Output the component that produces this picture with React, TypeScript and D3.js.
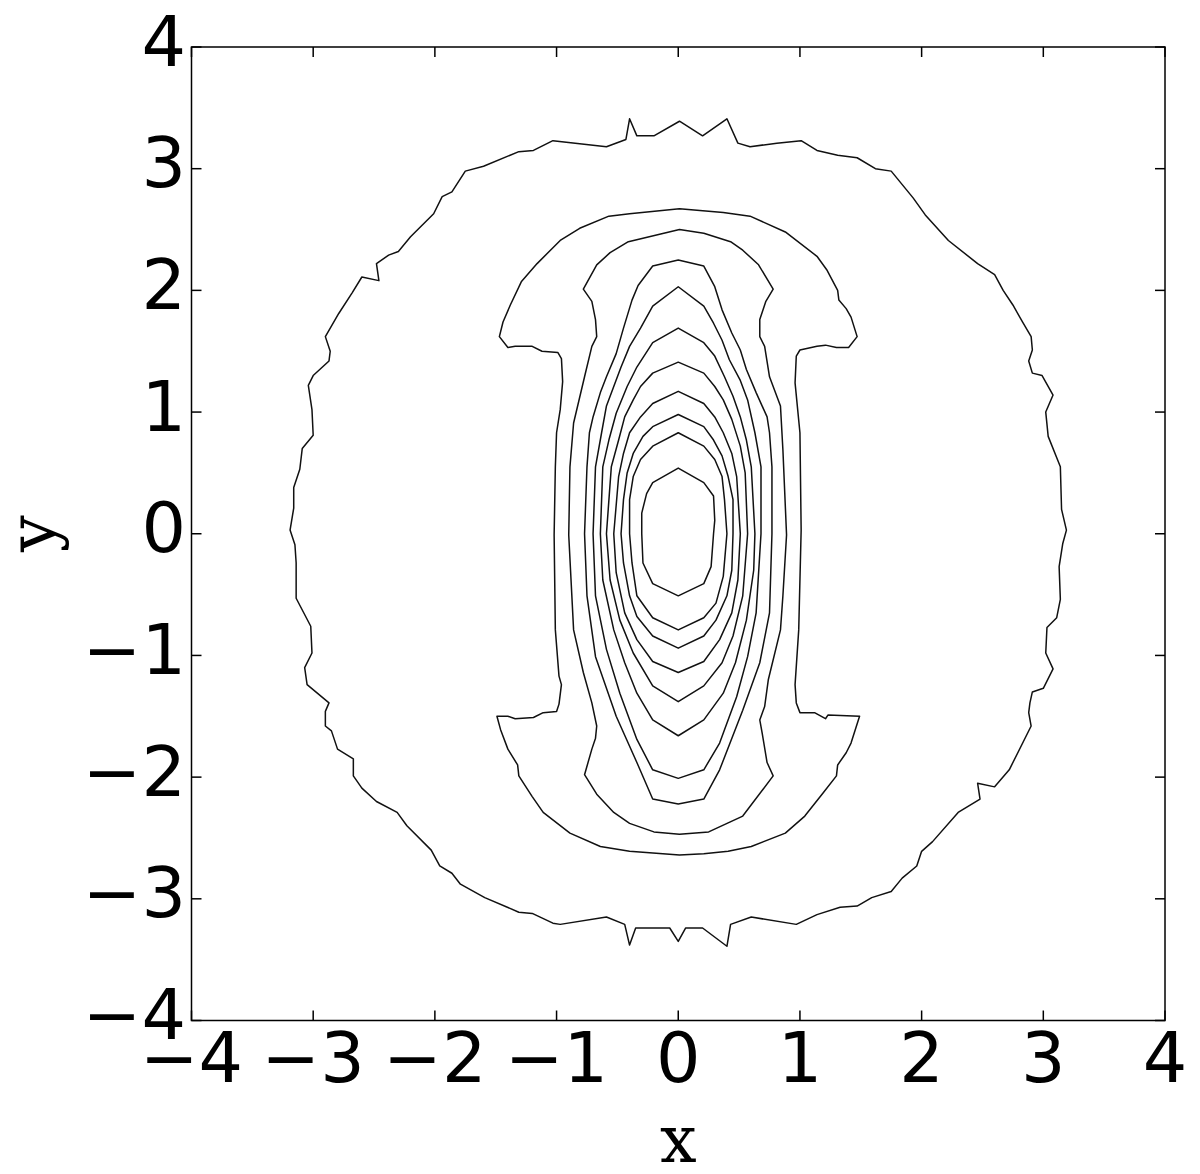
import React from 'react';
import * as d3 from 'd3';

type P = [number, number];

const xTickValues = [-4, -3, -2, -1, 0, 1, 2, 3, 4];
const yTickValues = [-4, -3, -2, -1, 0, 1, 2, 3, 4];
const tickLabels = ['\u22124', '\u22123', '\u22122', '\u22121', '0', '1', '2', '3', '4'];
const xAxisLabel = 'x';
const yAxisLabel = 'y';

const outerContour: P[] = [
  [0.01, 3.39], [-0.2, 3.27], [-0.34, 3.27], [-0.4, 3.41], [-0.43, 3.24], [-0.59, 3.18], [-1.03, 3.23], [-1.19, 3.15],
  [-1.31, 3.14], [-1.6, 3.02], [-1.75, 2.98], [-1.86, 2.81], [-1.94, 2.77], [-2.01, 2.63], [-2.2, 2.44], [-2.3, 2.32],
  [-2.38, 2.29], [-2.48, 2.22], [-2.46, 2.08], [-2.6, 2.11], [-2.68, 1.98], [-2.79, 1.81], [-2.9, 1.62], [-2.86, 1.5],
  [-2.87, 1.42], [-3.0, 1.3], [-3.04, 1.22], [-3.01, 1.02], [-3.0, 0.81], [-3.09, 0.7], [-3.11, 0.53], [-3.16, 0.38],
  [-3.16, 0.21], [-3.19, 0.03], [-3.15, -0.09], [-3.14, -0.24], [-3.14, -0.53], [-3.02, -0.76], [-3.01, -0.98],
  [-3.07, -1.1], [-3.05, -1.24], [-2.87, -1.39], [-2.9, -1.46], [-2.9, -1.58], [-2.85, -1.62], [-2.8, -1.77],
  [-2.67, -1.85], [-2.67, -1.99], [-2.6, -2.09], [-2.48, -2.2], [-2.31, -2.29], [-2.23, -2.4], [-2.03, -2.6],
  [-1.96, -2.73], [-1.86, -2.79], [-1.79, -2.88], [-1.59, -2.99], [-1.31, -3.11], [-1.2, -3.12], [-1.03, -3.2],
  [-0.97, -3.21], [-0.59, -3.15], [-0.44, -3.21], [-0.4, -3.38], [-0.35, -3.24], [-0.07, -3.24], [0.0, -3.35],
  [0.06, -3.24], [0.2, -3.24], [0.4, -3.39], [0.43, -3.21], [0.6, -3.15], [0.97, -3.21], [1.14, -3.13], [1.33, -3.07],
  [1.47, -3.06], [1.59, -2.99], [1.75, -2.94], [1.84, -2.83], [1.96, -2.73], [2.0, -2.61], [2.09, -2.53], [2.3, -2.29],
  [2.48, -2.18], [2.46, -2.05], [2.6, -2.08], [2.72, -1.94], [2.9, -1.58], [2.88, -1.47], [2.89, -1.39], [2.91, -1.3],
  [3.0, -1.27], [3.08, -1.11], [3.02, -0.98], [3.03, -0.77], [3.11, -0.69], [3.14, -0.54], [3.13, -0.27], [3.16, -0.08],
  [3.19, 0.03], [3.15, 0.2], [3.14, 0.55], [3.04, 0.8], [3.02, 1.0], [3.08, 1.14], [2.99, 1.3], [2.91, 1.32],
  [2.88, 1.42], [2.91, 1.51], [2.9, 1.62], [2.83, 1.74], [2.75, 1.88], [2.67, 2.0], [2.6, 2.13], [2.46, 2.22],
  [2.22, 2.41], [2.03, 2.62], [1.93, 2.76], [1.75, 2.98], [1.62, 3.0], [1.47, 3.09], [1.31, 3.11], [1.14, 3.15],
  [1.01, 3.23], [0.81, 3.21], [0.59, 3.18], [0.49, 3.21], [0.4, 3.41], [0.2, 3.27],
];

const iShapeContour: P[] = [
  [0.01, 2.67], [-0.4, 2.63], [-0.57, 2.61], [-0.81, 2.51], [-0.97, 2.41], [-1.16, 2.22], [-1.29, 2.07], [-1.38, 1.88],
  [-1.44, 1.74], [-1.47, 1.62], [-1.4, 1.53], [-1.34, 1.54], [-1.2, 1.54], [-1.12, 1.5], [-0.99, 1.49], [-0.96, 1.44],
  [-0.95, 1.25], [-0.97, 1.02], [-1.0, 0.83], [-1.01, 0.55], [-1.02, -0.01], [-1.01, -0.79], [-0.98, -1.17],
  [-0.96, -1.24], [-0.98, -1.4], [-1.0, -1.46], [-1.11, -1.47], [-1.19, -1.51], [-1.34, -1.52], [-1.4, -1.5],
  [-1.49, -1.5], [-1.46, -1.61], [-1.4, -1.77], [-1.32, -1.9], [-1.31, -1.99], [-1.2, -2.16], [-1.11, -2.29],
  [-0.89, -2.46], [-0.64, -2.57], [-0.4, -2.61], [0.01, -2.64], [0.21, -2.63], [0.41, -2.61], [0.6, -2.57],
  [0.88, -2.46], [1.04, -2.32], [1.19, -2.13], [1.3, -1.99], [1.31, -1.9], [1.38, -1.8], [1.42, -1.72], [1.49, -1.5],
  [1.23, -1.49], [1.21, -1.52], [1.12, -1.47], [1.0, -1.47], [0.97, -1.39], [0.96, -1.24], [0.99, -0.79], [1.01, 0.03],
  [1.0, 0.83], [0.96, 1.24], [0.97, 1.46], [1.0, 1.51], [1.14, 1.54], [1.21, 1.55], [1.3, 1.53], [1.4, 1.53],
  [1.47, 1.62], [1.42, 1.78], [1.38, 1.85], [1.32, 1.92], [1.31, 2.0], [1.22, 2.17], [1.14, 2.28], [0.88, 2.48],
  [0.59, 2.61], [0.37, 2.64],
];

const shoulderContour: P[] = [
  [0.01, 2.5], [-0.41, 2.4], [-0.56, 2.31], [-0.67, 2.21], [-0.78, 2.01], [-0.71, 1.91], [-0.68, 1.76], [-0.67, 1.62],
  [-0.71, 1.54], [-0.77, 1.29], [-0.86, 0.91], [-0.89, 0.55], [-0.9, -0.01], [-0.86, -0.79], [-0.78, -1.14],
  [-0.71, -1.39], [-0.67, -1.58], [-0.68, -1.68], [-0.71, -1.77], [-0.77, -1.98], [-0.67, -2.14], [-0.53, -2.29],
  [-0.4, -2.38], [-0.2, -2.45], [0.01, -2.47], [0.25, -2.45], [0.53, -2.32], [0.78, -1.99], [0.73, -1.88],
  [0.69, -1.64], [0.67, -1.53], [0.71, -1.42], [0.74, -1.2], [0.84, -0.79], [0.86, -0.51], [0.89, -0.01], [0.86, 0.69],
  [0.84, 1.05], [0.75, 1.29], [0.71, 1.54], [0.67, 1.62], [0.67, 1.76], [0.72, 1.91], [0.78, 2.01], [0.66, 2.21],
  [0.53, 2.33], [0.43, 2.4], [0.21, 2.47],
];

const oval1: P[] = [
  [0.77, 0.0], [0.77, 0.55], [0.75, 0.83], [0.73, 0.96], [0.64, 1.16], [0.56, 1.35], [0.51, 1.51], [0.44, 1.65],
  [0.36, 1.84], [0.3, 2.03], [0.21, 2.2], [0.0, 2.25], [-0.21, 2.2], [-0.33, 2.04], [-0.38, 1.92], [-0.45, 1.69],
  [-0.51, 1.48], [-0.59, 1.29], [-0.64, 1.16], [-0.7, 0.96], [-0.73, 0.83], [-0.75, 0.55], [-0.77, 0.0],
  [-0.75, -0.51], [-0.68, -1.01], [-0.51, -1.5], [-0.34, -1.88], [-0.21, -2.18], [0.0, -2.22], [0.21, -2.18],
  [0.34, -1.94], [0.53, -1.45], [0.67, -1.06], [0.75, -0.65],
];

const oval2: P[] = [
  [0.68, 0.0], [0.68, 0.55], [0.63, 0.83], [0.57, 1.1], [0.51, 1.26], [0.42, 1.43], [0.36, 1.59], [0.29, 1.73],
  [0.21, 1.87], [0.0, 2.03], [-0.21, 1.87], [-0.31, 1.69], [-0.4, 1.54], [-0.47, 1.37], [-0.53, 1.21], [-0.59, 1.05],
  [-0.63, 0.83], [-0.68, 0.55], [-0.7, 0.0], [-0.68, -0.51], [-0.59, -0.95], [-0.48, -1.31], [-0.34, -1.69],
  [-0.21, -1.94], [0.0, -2.01], [0.21, -1.94], [0.34, -1.72], [0.48, -1.34], [0.57, -1.01], [0.64, -0.65],
];

const oval3: P[] = [
  [0.63, 0.0], [0.6, 0.55], [0.56, 0.77], [0.51, 0.96], [0.45, 1.13], [0.38, 1.29], [0.3, 1.46], [0.21, 1.57],
  [0.0, 1.69], [-0.21, 1.57], [-0.34, 1.37], [-0.42, 1.21], [-0.51, 0.99], [-0.57, 0.77], [-0.62, 0.55], [-0.64, 0.0],
  [-0.62, -0.38], [-0.53, -0.79], [-0.44, -1.06], [-0.34, -1.31], [-0.21, -1.53], [0.0, -1.66], [0.21, -1.53],
  [0.37, -1.31], [0.47, -1.06], [0.56, -0.71], [0.62, -0.3],
];

const oval4: P[] = [
  [0.57, 0.0], [0.55, 0.5], [0.51, 0.72], [0.44, 0.94], [0.37, 1.1], [0.3, 1.21], [0.21, 1.32], [0.0, 1.41],
  [-0.21, 1.32], [-0.31, 1.21], [-0.37, 1.1], [-0.44, 0.96], [-0.49, 0.77], [-0.55, 0.55], [-0.59, 0.0],
  [-0.56, -0.38], [-0.48, -0.71], [-0.37, -0.98], [-0.21, -1.25], [0.0, -1.38], [0.21, -1.25], [0.36, -1.06],
  [0.45, -0.84], [0.53, -0.51],
];

const oval5: P[] = [
  [0.51, 0.0], [0.48, 0.47], [0.44, 0.66], [0.37, 0.83], [0.3, 0.96], [0.21, 1.07], [0.0, 1.17], [-0.21, 1.07],
  [-0.31, 0.96], [-0.4, 0.83], [-0.45, 0.66], [-0.49, 0.47], [-0.53, 0.0], [-0.51, -0.32], [-0.44, -0.65],
  [-0.34, -0.87], [-0.21, -1.05], [0.0, -1.14], [0.21, -1.05], [0.34, -0.87], [0.44, -0.65], [0.49, -0.38],
];

const oval6: P[] = [
  [0.45, 0.0], [0.45, 0.28], [0.41, 0.47], [0.36, 0.64], [0.29, 0.77], [0.21, 0.88], [0.0, 0.98], [-0.21, 0.88],
  [-0.29, 0.8], [-0.37, 0.66], [-0.42, 0.5], [-0.45, 0.28], [-0.47, 0.0], [-0.45, -0.24], [-0.4, -0.51],
  [-0.34, -0.68], [-0.21, -0.84], [0.0, -0.94], [0.21, -0.84], [0.31, -0.71], [0.4, -0.51], [0.44, -0.3],
];

const oval7: P[] = [
  [0.4, 0.0], [0.38, 0.28], [0.36, 0.47], [0.3, 0.61], [0.21, 0.72], [0.0, 0.83], [-0.21, 0.72], [-0.31, 0.61],
  [-0.37, 0.47], [-0.4, 0.28], [-0.4, 0.0], [-0.38, -0.24], [-0.34, -0.51], [-0.21, -0.69], [0.0, -0.79],
  [0.21, -0.69], [0.31, -0.57], [0.37, -0.35],
];

const oval8: P[] = [
  [0.29, 0.0], [0.3, 0.11], [0.29, 0.31], [0.21, 0.42], [0.0, 0.54], [-0.21, 0.42], [-0.26, 0.33], [-0.3, 0.17],
  [-0.3, 0.0], [-0.29, -0.24], [-0.21, -0.41], [0.0, -0.51], [0.21, -0.41], [0.27, -0.27],
];

const contours: P[][] = [
  outerContour, iShapeContour, shoulderContour, oval1, oval2, oval3, oval4, oval5, oval6, oval7, oval8,
];

export default function App() {
  const W = 1200;
  const H = 1174;
  const left = 191.5;
  const right = 1165;
  const top = 47;
  const bottom = 1020.5;

  const x = d3.scaleLinear().domain([-4, 4]).range([left, right]);
  const y = d3.scaleLinear().domain([-4, 4]).range([bottom, top]);

  const line = d3
    .line<P>()
    .x((d) => x(d[0]))
    .y((d) => y(d[1]))
    .curve(d3.curveLinearClosed);

  const tickLen = 10;
  const sans = 'DejaVu Sans, sans-serif';
  const serif = 'DejaVu Serif, serif';

  return (
    <svg
      width={W}
      height={H}
      viewBox={`0 0 ${W} ${H}`}
      style={{ position: 'absolute', left: 0, top: 0, background: '#ffffff' }}
    >
      <rect x={0} y={0} width={W} height={H} fill="#ffffff" />
      <g fill="none" stroke="#111" strokeWidth={1.5} strokeLinejoin="round">
        {contours.map((c, i) => (
          <path key={i} d={line(c) || ''} />
        ))}
      </g>
      <g stroke="#000" strokeWidth={1.5}>
        {xTickValues.map((v) => (
          <g key={'xt' + v}>
            <line x1={x(v)} x2={x(v)} y1={bottom} y2={bottom - tickLen} />
            <line x1={x(v)} x2={x(v)} y1={top} y2={top + tickLen} />
          </g>
        ))}
        {yTickValues.map((v) => (
          <g key={'yt' + v}>
            <line x1={left} x2={left + tickLen} y1={y(v)} y2={y(v)} />
            <line x1={right} x2={right - tickLen} y1={y(v)} y2={y(v)} />
          </g>
        ))}
      </g>
      <rect
        x={left}
        y={top}
        width={right - left}
        height={bottom - top}
        fill="none"
        stroke="#000"
        strokeWidth={1.5}
      />
      <g fontFamily={sans} fontSize={70} fill="#000">
        {xTickValues.map((v, i) => (
          <text key={'xl' + v} x={x(v)} y={1082} textAnchor="middle">
            {tickLabels[i]}
          </text>
        ))}
        {yTickValues.map((v, i) => (
          <text key={'yl' + v} x={186} y={y(v) + 18.5} textAnchor="end">
            {tickLabels[i]}
          </text>
        ))}
      </g>
      <text x={x(0)} y={1162} textAnchor="middle" fontFamily={serif} fontSize={65} fill="#000">
        {xAxisLabel}
      </text>
      <text
        transform={`translate(54, ${y(0)}) rotate(-90)`}
        textAnchor="middle"
        fontFamily={serif}
        fontSize={65}
        fill="#000"
      >
        {yAxisLabel}
      </text>
    </svg>
  );
}
